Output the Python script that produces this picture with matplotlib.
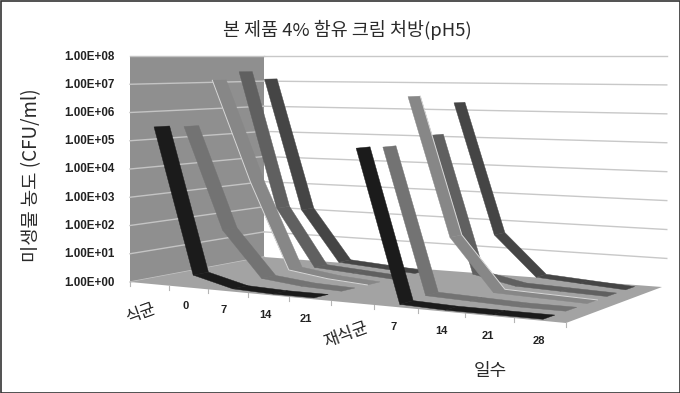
import numpy as np
import matplotlib
matplotlib.use("Agg")
import matplotlib.pyplot as plt
from matplotlib.patches import Polygon

KR = ['Noto Sans CJK KR', 'DejaVu Sans']
categories = ['식균', '0', '7', '14', '21', '재식균', '7', '14', '21', '28']
y_labels = ['1.00E+00', '1.00E+01', '1.00E+02', '1.00E+03', '1.00E+04',
            '1.00E+05', '1.00E+06', '1.00E+07', '1.00E+08']
# log10(CFU/ml), one row per series, front to back
s1_first = [5.5, 0.4, 0.05, 0.0, 0.0]
s1_second = [5.0, 0.05, 0.0, 0.0, 0.0]
s2_first = [5.45, 1.8, 0.2, 0.05, 0.0]
s2_second = [4.95, 0.1, 0.05, 0.0, 0.0]
s3_first = [7.1, 3.4, 0.3, 0.1, 0.0]
s3_second = [6.6, 1.85, 0.1, 0.05, 0.0]
s4_first = [7.4, 2.3, 0.2, 0.1, 0.0]
s4_second = [5.2, 0.4, 0.1, 0.05, 0.0]
s5_first = [7.1, 2.1, 0.2, 0.1, 0.0]
s5_second = [6.3, 1.6, 0.2, 0.1, 0.0]
series = [(s1_first, s1_second, '#1b1b1b'), (s2_first, s2_second, '#737373'),
          (s3_first, s3_second, '#878787'), (s4_first, s4_second, '#606060'),
          (s5_first, s5_second, '#454545')]

W, H = 680, 393
fig = plt.figure(figsize=(W / 100, H / 100), dpi=100)
ax = fig.add_axes([0, 0, 1, 1])
ax.set_xlim(0, W); ax.set_ylim(H, 0); ax.axis('off')

# perspective of the 3-D box
src = [(0, 0), (1, 0), (1, 1), (0, 1)]
dst = [(130, 282), (566, 323), (662, 287), (264, 257)]
A, b = [], []
for (u, w), (px, py) in zip(src, dst):
    A.append([u, w, 1, 0, 0, 0, -u * px, -w * px]); b.append(px)
    A.append([0, 0, 0, u, w, 1, -u * py, -w * py]); b.append(py)
M = np.append(np.linalg.solve(np.array(A, float), np.array(b, float)), 1).reshape(3, 3)
HORIZON = 56
N = len(categories)

def proj(cat, depth, val):
    """cat in category units, depth 0..1, val in log10 units."""
    t = cat / N
    u = t + 0.1 * t * (1 - t) ** 2
    p = M @ np.array([u, depth, 1.0])
    x, yf = p[0] / p[2], p[1] / p[2]
    return x, yf - (yf - HORIZON) * val / 8

def poly(pts, **kw):
    ax.add_patch(Polygon(pts, closed=True, **kw))

# walls and floor
poly([proj(0, 0, 0), proj(0, 0, 8), proj(0, 1, 8), proj(0, 1, 0)], fc='#8f8f8f', ec='none', zorder=1)
poly([proj(0, 0, 0), proj(N, 0, 0), proj(N, 1, 0), proj(0, 1, 0)], fc='#a3a3a3', ec='none', zorder=2)
for v in range(9):
    xs, ys = zip(proj(0, 0, v), proj(0, 1, v))
    ax.plot(xs, ys, color='#c4c4c4', lw=1.0, zorder=1.5)
    xs, ys = zip(proj(0, 1, v), proj(N * 1.01, 1, v))
    if v > 0:
        ax.plot(xs, ys, color='#c8c8c8', lw=1.0, zorder=1.5)
    x, y = proj(0, 0, v)
    ax.text(115, y + 0.5, y_labels[v], ha='right', va='center', fontsize=8.4, fontweight='bold',
            family='Liberation Sans', color='#222222', zorder=6)

# ticks on front edge
for c in range(N + 1):
    x, y = proj(c, 0, 0)
    ax.plot([x, x], [y, y + 4], color='#b5b5b5', lw=0.8, zorder=2)

# ribbons
RW = 0.105
for j in reversed(range(5)):
    first, second, col = series[j]
    d0 = 0.03 + j * 0.205
    d1 = d0 + RW
    for start, vals in ((0, first), (5, second)):
        z = 3 + (4 - j) * 0.1 + start * 0.01
        for i in range(len(vals) - 1):
            c0, c1 = start + i + 0.5, start + i + 1.5
            poly([proj(c0, d0, vals[i]), proj(c1, d0, vals[i + 1]),
                  proj(c1, d1, vals[i + 1]), proj(c0, d1, vals[i])],
                 fc=col, ec=col, lw=0.3, zorder=z)
        if j == 2:
            edge = d0 if start == 0 else d1
            pts = [proj(start + i + 0.5, edge, vals[i]) for i in range(len(vals))]
            ax.plot(*zip(*pts), color='#d8d8d8', lw=0.7, zorder=z + 0.001)

# category labels
label_x = [141, 186, 224, 265, 306, 346, 394, 441, 488, 539]
label_y = [314, 306, 310, 315, 319, 335, 327, 331, 336, 341]
for c, lab in enumerate(categories):
    korean = lab in ('식균', '재식균')
    ax.text(label_x[c], label_y[c], lab, ha='center', va='center',
            rotation=20 if korean else 0,
            fontsize=12 if korean else 8, fontweight='normal' if korean else 'bold',
            family=KR if korean else 'Liberation Sans', color='#222222', zorder=6)

ax.text(347, 30, '본 제품 4% 함유 크림 처방(pH5)', ha='center', va='center', fontsize=13.3,
        family=KR, color='#2a2a2a')
ax.text(32, 175, '미생물 농도 (CFU/ml)', ha='center', va='center', rotation=90, fontsize=13.5,
        family=KR, color='#2a2a2a')
ax.text(490, 371, '일수', ha='center', va='center', fontsize=13, family=KR, color='#2a2a2a')

ax.add_patch(plt.Rectangle((0.5, 0.5), W - 1, H - 1, fill=False, ec='#333333', lw=1.2, zorder=10))
fig.savefig('out.png', dpi=100)
